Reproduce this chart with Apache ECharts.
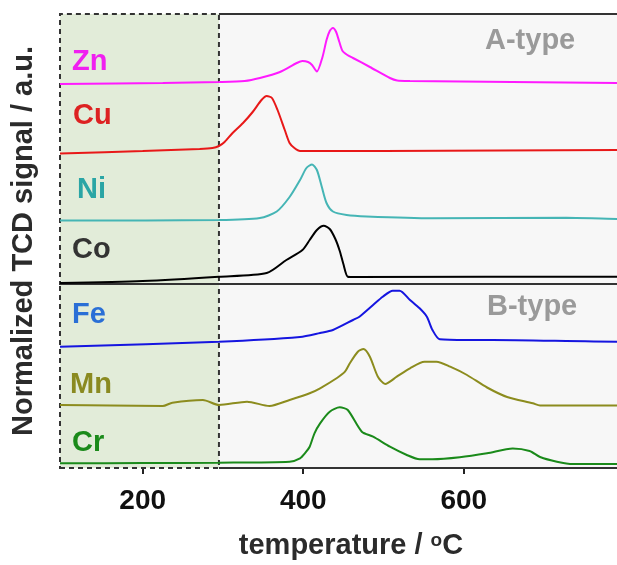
<!DOCTYPE html>
<html><head><meta charset="utf-8">
<script src="https://cdn.jsdelivr.net/npm/echarts@6/dist/echarts.min.js"></script>
<style>html,body{margin:0;padding:0;background:#fff;overflow:hidden}#c{width:617px;height:565px}</style>
</head><body><div id="c"></div>
<script>
// ---- data (temperature °C, offset normalized signal a.u.) ----
const xMin = 97, xMax = 822;
const shadeEnd = 295;
const topMax = 270, botMax = 184;
const tickValues = [200, 400, 600];
const names = ['Zn', 'Cu', 'Ni', 'Co', 'Fe', 'Mn', 'Cr'];
const panelTypes = ['A-type', 'B-type'];

const zn = [[97,200],[225,201],[295,202],[327,203],[346,206],[371,212],[392,221],[399,223],[406,222],[411,219],[417,212.5],[424,227],[429,244],[433,253],[437,256],[441,252],[445,242],[449,233],[455,229],[462,226],[483,217],[508,206],[517,203.5],[533,203],[660,202],[791,201],[822,201]];
const cu = [[97,130.5],[200,133],[271,135],[287,136],[295,138],[302,142],[312,151],[325,161],[337,172],[348,184],[354.5,188],[361,186],[368,174],[377,154],[383,141],[389,136],[396,133],[500,133],[791,134],[822,134]];
const ni = [[97,63.5],[295,64],[346,66],[367,72.5],[383,87],[396,104],[404,116],[411,119.5],[417,114],[423,97.5],[429,81],[437,72.5],[454,69],[479,67.5],[561,65.7],[728,66.3],[791,65],[822,65]];
const co = [[97,1],[200,3],[295,7.3],[354.5,11],[379,24],[399,34],[408,44],[417,54],[425.5,58.2],[433,55],[440,45],[445.5,33],[450,20],[455.5,7.3],[464,7],[791,7.3],[822,7.3]];
const fe = [[97,121.3],[295,126.3],[396,131],[421,135],[437,138],[462,148],[470,151.3],[487,163],[499,171.3],[511.5,177.3],[520,177.3],[533,168],[545,159.7],[554,151.3],[561,138],[570,128.7],[604,128],[636,128],[791,126.3],[822,126.3]];
const mn = [[97,63],[160,62.5],[225,62],[237,65.3],[275,68],[295,63],[330,66.3],[358,62],[383,68],[408,74.7],[421,79.7],[442,90],[452,96.3],[458,104.7],[468,116.3],[475,119],[483,111.3],[493,91.3],[502,84],[516.5,91.3],[533,99.7],[551,106.3],[566,106.3],[583,101.3],[604,93],[629,80.5],[654,71],[686,64.7],[695,62.5],[791,62.5],[822,62.5]];
const cr = [[97,4.7],[200,5],[295,5.3],[383,6.3],[396,9.7],[402,14.7],[408,21.3],[414,34.7],[421,44.7],[433,56.3],[445.5,60.7],[455.5,58],[473,36.3],[487,31.3],[508,21.3],[529,13],[545,8.7],[561,8.7],[595,10.7],[629,14.7],[661,19.5],[682,17],[695,11],[716,6.3],[736,4],[791,4],[822,4]];

const lineColors = ['#ff1aff', '#e81818', '#45b5b5', '#000000', '#1515e0', '#8c8c1e', '#1a8a1a'];
const labelColors = ['#f020f0', '#dd2222', '#2aa5a5', '#333333', '#2a6fd6', '#8a8a20', '#1a8a1a'];
const seriesData = [zn, cu, ni, co, fe, mn, cr];
const panelOf = [0, 0, 0, 0, 1, 1, 1];

const FONT = '"Liberation Sans", Arial, sans-serif';
const chart = echarts.init(document.getElementById('c'), null, {renderer: 'canvas'});

function frameLines(yTop, leftTopStart, leftBottomStart) {
  return {
    silent: true, symbol: ['none', 'none'], label: {show: false},
    lineStyle: {color: '#333', width: 2, type: 'solid'},
    data: [
      [{coord: [leftTopStart, yTop]}, {coord: [xMax, yTop]}],
      [{coord: [leftBottomStart, 0]}, {coord: [xMax, 0]}]
    ]
  };
}

const series = seriesData.map((d, i) => ({
  type: 'line', name: names[i], data: d,
  xAxisIndex: panelOf[i], yAxisIndex: panelOf[i],
  symbol: 'none', smooth: 0.25, z: 5,
  lineStyle: {color: lineColors[i], width: 2},
  markArea: (i === 0 || i === 4) ? {
    silent: true,
    itemStyle: {color: '#e2ecd9', borderColor: '#333', borderWidth: 2, borderType: [5, 4]},
    data: [[{xAxis: xMin}, {xAxis: shadeEnd}]]
  } : undefined,
  markLine: i === 0 ? frameLines(topMax, shadeEnd, xMin) : (i === 4 ? frameLines(botMax, xMin, shadeEnd) : undefined)
}));

const labelPos = [[72,62],[73,116],[77,190],[72,250],[72,315],[70,385],[72,443]];
const graphic = names.map((n, i) => ({
  type: 'text', x: labelPos[i][0], y: labelPos[i][1], z: 10,
  style: {text: n, fill: labelColors[i], fontSize: 29, fontWeight: 'bold', fontFamily: FONT, verticalAlign: 'middle'}
}));
graphic.push({type: 'text', x: 485, y: 41, z: 10, style: {text: panelTypes[0], fill: '#9a9a9a', fontSize: 29, fontWeight: 'bold', fontFamily: FONT, verticalAlign: 'middle'}});
graphic.push({type: 'text', x: 487, y: 307, z: 10, style: {text: panelTypes[1], fill: '#9a9a9a', fontSize: 29, fontWeight: 'bold', fontFamily: FONT, verticalAlign: 'middle'}});
graphic.push({type: 'text', x: 24, y: 241, rotation: Math.PI / 2, z: 10,
  style: {text: 'Normalized TCD signal / a.u.', fill: '#2b2b2b', fontSize: 29, fontWeight: 'bold', fontFamily: FONT, align: 'center', verticalAlign: 'middle'}});
graphic.push({type: 'text', x: 351, y: 546, z: 10,
  style: {text: 'temperature / {s|o}C', fill: '#2b2b2b', fontSize: 29, fontWeight: 'bold', fontFamily: FONT, align: 'center', verticalAlign: 'middle', lineHeight: 29,
    rich: {s: {fontSize: 19, fontWeight: 'bold', fontFamily: FONT, fill: '#2b2b2b', verticalAlign: 'top', lineHeight: 10}}}});

chart.setOption({
  animation: false,
  backgroundColor: '#fff',
  grid: [
    {left: 60, top: 14, width: 582, height: 270, show: true, outerBoundsMode: 'none', containLabel: false, backgroundColor: '#f7f7f7', borderWidth: 0},
    {left: 60, top: 284, width: 582, height: 184, show: true, outerBoundsMode: 'none', containLabel: false, backgroundColor: '#f7f7f7', borderWidth: 0}
  ],
  xAxis: [
    {gridIndex: 0, type: 'value', min: xMin, max: xMax, show: false},
    {gridIndex: 1, type: 'value', min: xMin, max: xMax,
      axisLine: {show: false}, splitLine: {show: false},
      axisTick: {show: true, customValues: tickValues, length: 6, lineStyle: {color: '#222', width: 2}},
      axisLabel: {customValues: tickValues, fontSize: 28, fontWeight: 'bold', color: '#111', margin: 19, fontFamily: FONT}}
  ],
  yAxis: [
    {gridIndex: 0, type: 'value', min: 0, max: topMax, show: false},
    {gridIndex: 1, type: 'value', min: 0, max: botMax, show: false}
  ],
  series: series,
  graphic: graphic
});
</script></body></html>
